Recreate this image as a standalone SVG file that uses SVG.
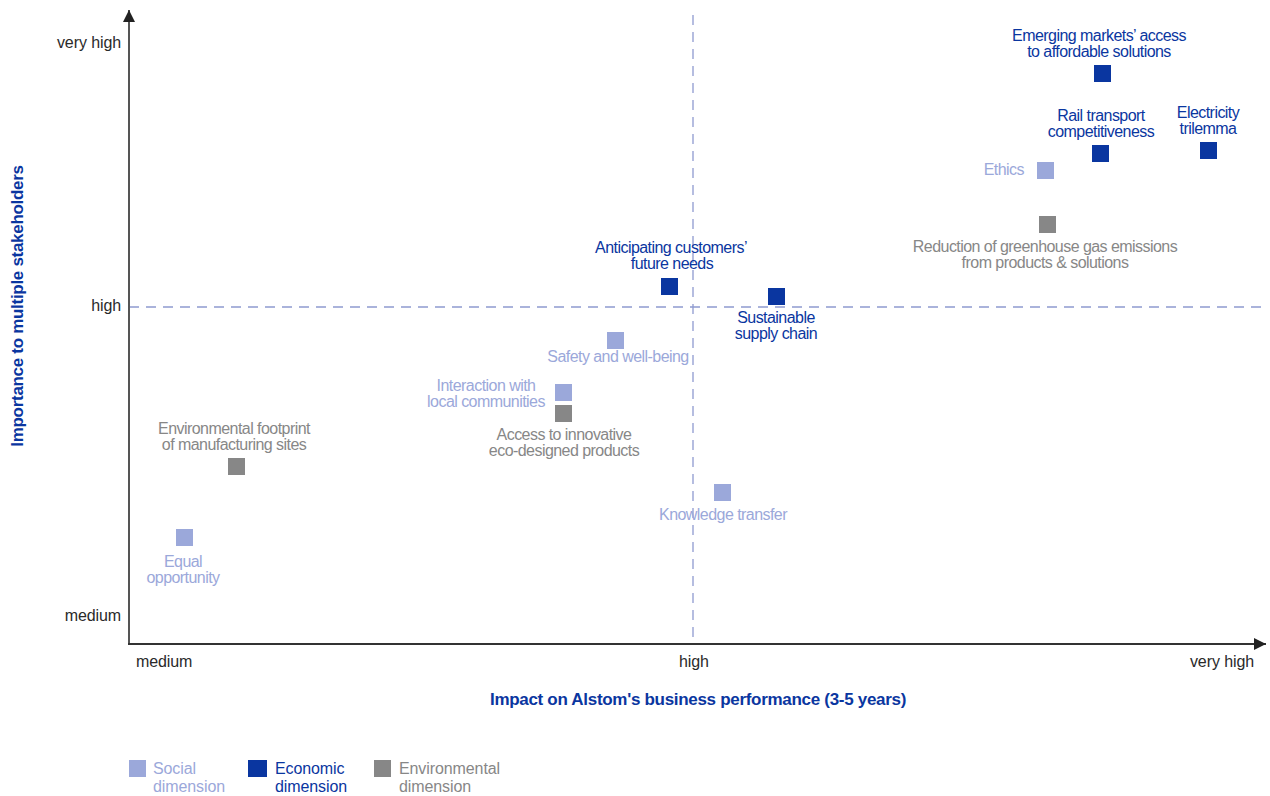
<svg xmlns="http://www.w3.org/2000/svg" width="1270" height="796" viewBox="0 0 1270 796">
<defs>
<style>
text{font-family:"Liberation Sans",Arial,sans-serif;font-size:16px;letter-spacing:-0.55px}
.ax{fill:#2a2a2a;letter-spacing:-0.1px}
.lg{letter-spacing:-0.1px}
.soc{fill:#9ba8da}
.eco{fill:#0a36a0}
.env{fill:#878787}
.m{text-anchor:middle}
.e{text-anchor:end}
.title{fill:#0a36a0;font-weight:bold;font-size:17px;letter-spacing:-0.3px}
.dash{stroke:#8f9ad0;stroke-width:1.3;stroke-dasharray:10 7;fill:none}
</style>
<marker id="ah" viewBox="0 0 10 10" refX="10" refY="5" markerWidth="12" markerHeight="12" markerUnits="userSpaceOnUse" orient="auto"><path d="M0,0 L10,5 L0,10 z" fill="#222"/></marker>
</defs>
<rect width="1270" height="796" fill="#fff"/>
<g id="connectors">
<line class="dash" x1="693" y1="15" x2="693" y2="644"/>
<line class="dash" x1="129" y1="307" x2="1266" y2="307"/>
<line x1="129" y1="645" x2="129" y2="10" stroke="#555" stroke-width="2" marker-end="url(#ah)"/>
<line x1="128" y1="644" x2="1266" y2="644" stroke="#333" stroke-width="2" marker-end="url(#ah)"/>
</g>
<g id="axis-labels">
<text class="ax e" x="121" y="48">very high</text>
<text class="ax e" x="121" y="311">high</text>
<text class="ax e" x="121" y="621">medium</text>
<text class="ax" x="136" y="667">medium</text>
<text class="ax m" x="694" y="667">high</text>
<text class="ax e" x="1254" y="667">very high</text>
<text class="title m" x="698" y="705">Impact on Alstom's business  performance (3-5 years)</text>
<text class="title m" transform="translate(23,306) rotate(-90)">Importance to multiple stakeholders</text>
</g>
<g id="n-emerging"><rect class="eco" x="1094" y="65" width="17" height="17"/><text class="eco m" x="1099" y="41">Emerging markets’ access</text><text class="eco m" x="1099" y="57">to affordable solutions</text></g>
<g id="n-rail"><rect class="eco" x="1092" y="145" width="17" height="17"/><text class="eco m" x="1101" y="121">Rail transport</text><text class="eco m" x="1101" y="137">competitiveness</text></g>
<g id="n-electricity"><rect class="eco" x="1200" y="142" width="17" height="17"/><text class="eco m" x="1208" y="118">Electricity</text><text class="eco m" x="1208" y="134">trilemma</text></g>
<g id="n-ethics"><rect class="soc" x="1037" y="162" width="17" height="17"/><text class="soc e" x="1024" y="175">Ethics</text></g>
<g id="n-ghg"><rect class="env" x="1039" y="216" width="17" height="17"/><text class="env m" x="1045" y="252">Reduction of greenhouse gas emissions</text><text class="env m" x="1045" y="268">from products &amp; solutions</text></g>
<g id="n-anticipating"><rect class="eco" x="661" y="278" width="17" height="17"/><text class="eco m" x="671" y="253">Anticipating customers’</text><text class="eco m" x="672" y="269">future needs</text></g>
<g id="n-supply"><rect class="eco" x="768" y="288" width="17" height="17"/><text class="eco m" x="776" y="323">Sustainable</text><text class="eco m" x="776" y="339">supply chain</text></g>
<g id="n-safety"><rect class="soc" x="607" y="332" width="17" height="17"/><text class="soc m" x="618" y="362">Safety and well-being</text></g>
<g id="n-interaction"><rect class="soc" x="555" y="384" width="17" height="17"/><text class="soc m" x="486" y="391">Interaction with</text><text class="soc m" x="486" y="407">local communities</text></g>
<g id="n-access"><rect class="env" x="555" y="405" width="17" height="17"/><text class="env m" x="564" y="440">Access to innovative</text><text class="env m" x="564" y="456">eco-designed products</text></g>
<g id="n-footprint"><rect class="env" x="228" y="458" width="17" height="17"/><text class="env m" x="234" y="434">Environmental footprint</text><text class="env m" x="234" y="450">of manufacturing sites</text></g>
<g id="n-knowledge"><rect class="soc" x="714" y="484" width="17" height="17"/><text class="soc m" x="723" y="520">Knowledge transfer</text></g>
<g id="n-equal"><rect class="soc" x="176" y="529" width="17" height="17"/><text class="soc m" x="183" y="567">Equal</text><text class="soc m" x="183" y="583">opportunity</text></g>
<g id="legend">
<rect class="soc" x="129" y="760" width="17" height="17"/><text class="soc lg" x="153" y="774">Social</text><text class="soc lg" x="153" y="792">dimension</text>
<rect class="eco" x="248" y="760" width="19" height="17"/><text class="eco lg" x="275" y="774">Economic</text><text class="eco lg" x="275" y="792">dimension</text>
<rect class="env" x="374" y="760" width="17" height="17"/><text class="env lg" x="399" y="774">Environmental</text><text class="env lg" x="399" y="792">dimension</text>
</g>
</svg>
